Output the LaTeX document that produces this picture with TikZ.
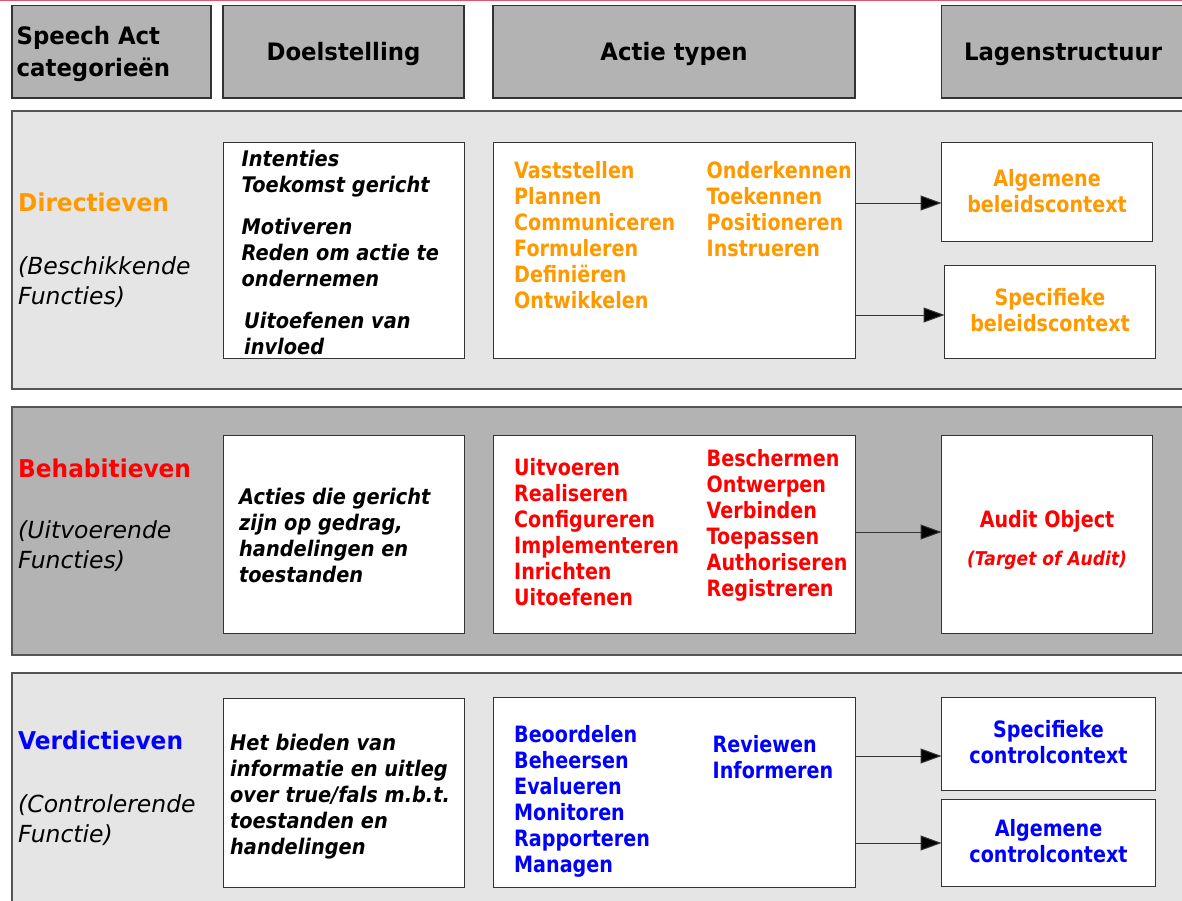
\documentclass[tikz,border=0pt]{standalone}
\usepackage{fontspec}
\usetikzlibrary{arrows.meta}
\newfontfamily\fntH{DejaVu Sans}[FakeStretch=0.95]
\newfontfamily\fntB{DejaVu Sans}[FakeStretch=0.85]
\newfontfamily\fntC{DejaVu Sans}[FakeStretch=0.9]
\newfontfamily\fntR{DejaVu Sans}
\newcommand\tstr{\vrule height 20pt width 0pt\relax}
\definecolor{orng}{HTML}{FF9900}
\definecolor{rd}{HTML}{FF0000}
\definecolor{bl}{HTML}{0000FF}
\definecolor{lgray}{HTML}{E5E5E5}
\definecolor{dgray}{HTML}{B3B3B3}
\definecolor{edge}{HTML}{333333}
\definecolor{secedge}{HTML}{555555}
\definecolor{topline}{HTML}{E0566E}
\begin{document}
\begin{tikzpicture}[x=1pt,y=-1pt,
  box/.style={draw=edge, line width=1pt, fill=white, anchor=north west, inner sep=0pt, outer sep=0pt},
  hdrbox/.style={box, fill=dgray, line width=1.3pt},
  secbox/.style={box, draw=secedge, line width=1.5pt},
  tx/.style={inner sep=0pt, align=left, anchor=north west},
  ctx/.style={inner sep=0pt, align=center, anchor=north},
  hdrf/.style={font=\fntH\bfseries\fontsize{24}{32}\selectfont},
  catf/.style={font=\fntH\bfseries\fontsize{24.5}{30}\selectfont},
  subf/.style={font=\fntR\itshape\fontsize{23.5}{30}\selectfont},
  doelf/.style={font=\fntC\bfseries\itshape\fontsize{21.5}{26}\selectfont},
  lstf/.style={font=\fntB\bfseries\fontsize{22.5}{26}\selectfont},
  tgtf/.style={font=\fntC\bfseries\itshape\fontsize{19}{22}\selectfont},
  arr/.style={draw=edge, line width=1pt, -{Triangle[length=21pt,width=15pt,fill=black]}}
]
\useasboundingbox (0,0) rectangle (1182,900);
% top line
\coordinate (tl) at (0,0);
\coordinate (tr) at (1182,0);
\draw[topline, line width=2.5pt] (tl) -- (tr);

% header boxes
\node[hdrbox, minimum width=199, minimum height=92.5] (hdr1) at (12,5.5) {};
\node[hdrbox, minimum width=241, minimum height=92.5] (hdr2) at (223,5.5) {};
\node[hdrbox, minimum width=362, minimum height=92.5] (hdr3) at (493,5.5) {};
\node[hdrbox, minimum width=260, minimum height=92.5] (hdr4) at (941.5,5.5) {};
\node[tx, hdrf] (thdr1) at (16.5,24) {\tstr Speech Act\\categorieën};
\node[ctx, hdrf] (thdr2) at (343.5,40) {\tstr Doelstelling};
\node[ctx, hdrf] (thdr3) at (674,40) {\tstr Actie typen};
\node[ctx, hdrf] (thdr4) at (1063,40) {\tstr Lagenstructuur};

% section backgrounds
\node[secbox, fill=lgray, minimum width=1188, minimum height=278] (sec1) at (12,111) {};
\node[secbox, fill=dgray, minimum width=1188, minimum height=248] (sec2) at (12,407) {};
\node[secbox, fill=lgray, minimum width=1188, minimum height=250] (sec3) at (12,673) {};

% ---------- Directieven ----------
\node[box, minimum width=241, minimum height=216] (doel1) at (223,142) {};
\node[box, minimum width=362, minimum height=216] (act1) at (493,142) {};
\node[box, minimum width=210.5, minimum height=99] (alg1) at (941.5,142) {};
\node[box, minimum width=210.5, minimum height=93] (spec1) at (944.5,265) {};

\node[tx, catf, text=orng] (cat1) at (18,191) {\tstr Directieven};
\node[tx, subf] (sub1) at (18,254) {\tstr(Beschikkende\\Functies)};
\node[tx, doelf] (d1a) at (241.5,146) {\tstr Intenties\\Toekomst gericht};
\node[tx, doelf] (d1b) at (241.5,214) {\tstr Motiveren\\Reden om actie te\\ondernemen};
\node[tx, doelf] (d1c) at (244,308) {\tstr Uitoefenen van\\invloed};
\node[tx, lstf, text=orng] (a1a) at (514,158) {\tstr Vaststellen\\Plannen\\Communiceren\\Formuleren\\Definiëren\\Ontwikkelen};
\node[tx, lstf, text=orng] (a1b) at (706.5,158) {\tstr Onderkennen\\Toekennen\\Positioneren\\Instrueren};
\node[ctx, lstf, text=orng] (talg1) at (1047,166) {\tstr Algemene\\beleidscontext};
\node[ctx, lstf, text=orng] (tspec1) at (1050,285) {\tstr Specifieke\\beleidscontext};
\draw[arr] (act1.east |- 0,203) -- (alg1.west |- 0,203);
\draw[arr] (act1.east |- 0,315) -- (spec1.west |- 0,315);

% ---------- Behabitieven ----------
\node[box, minimum width=241, minimum height=198] (doel2) at (223,435) {};
\node[box, minimum width=362, minimum height=198] (act2) at (493,435) {};
\node[box, minimum width=210.5, minimum height=198] (aud) at (941.5,435) {};

\node[tx, catf, text=rd] (cat2) at (18,457) {\tstr Behabitieven};
\node[tx, subf] (sub2) at (18,518) {\tstr(Uitvoerende\\Functies)};
\node[tx, doelf] (d2) at (239,484) {\tstr Acties die gericht\\zijn op gedrag,\\handelingen en\\toestanden};
\node[tx, lstf, text=rd] (a2a) at (514,455) {\tstr Uitvoeren\\Realiseren\\Configureren\\Implementeren\\Inrichten\\Uitoefenen};
\node[tx, lstf, text=rd] (a2b) at (706.5,446) {\tstr Beschermen\\Ontwerpen\\Verbinden\\Toepassen\\Authoriseren\\Registreren};
\node[ctx, lstf, text=rd] (taud) at (1047,507) {\tstr Audit Object};
\node[ctx, tgtf, text=rd] (ttgt) at (1047,545) {\tstr(Target of Audit)};
\draw[arr] (act2.east |- 0,532) -- (aud.west |- 0,532);

% ---------- Verdictieven ----------
\node[box, minimum width=241, minimum height=189] (doel3) at (223,698) {};
\node[box, minimum width=362, minimum height=190] (act3) at (493,697) {};
\node[box, minimum width=213.5, minimum height=93] (spec3) at (941.5,697) {};
\node[box, minimum width=213.5, minimum height=87] (alg3) at (941.5,799) {};

\node[tx, catf, text=bl] (cat3) at (18,729) {\tstr Verdictieven};
\node[tx, subf] (sub3) at (18,792.5) {\tstr(Controlerende\\Functie)};
\node[tx, doelf] (d3) at (230,730) {\tstr Het bieden van\\informatie en uitleg\\over true/fals m.b.t.\\toestanden en\\handelingen};
\node[tx, lstf, text=bl] (a3a) at (514,722) {\tstr Beoordelen\\Beheersen\\Evalueren\\Monitoren\\Rapporteren\\Managen};
\node[tx, lstf, text=bl] (a3b) at (712.5,732.5) {\tstr Reviewen\\Informeren};
\node[ctx, lstf, text=bl] (tspec3) at (1048.5,717.5) {\tstr Specifieke\\controlcontext};
\node[ctx, lstf, text=bl] (talg3) at (1048.5,816.7) {\tstr Algemene\\controlcontext};
\draw[arr] (act3.east |- 0,756) -- (spec3.west |- 0,756);
\draw[arr] (act3.east |- 0,843) -- (alg3.west |- 0,843);
\end{tikzpicture}
\end{document}
